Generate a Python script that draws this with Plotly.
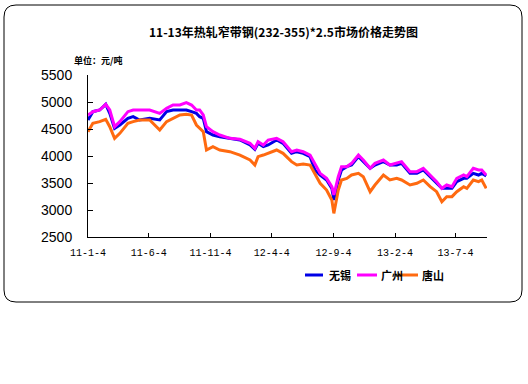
import plotly.graph_objects as go

dates = ["2011-01-04","2011-01-16","2011-02-02","2011-02-17","2011-02-27","2011-03-11","2011-03-24",
         "2011-04-13","2011-04-26","2011-05-12","2011-06-06","2011-07-01","2011-07-18","2011-08-03",
         "2011-08-20","2011-09-05","2011-09-18","2011-09-30","2011-10-08","2011-10-17","2011-10-25",
         "2011-11-10","2011-11-27","2011-12-22","2012-01-16","2012-02-10","2012-02-22","2012-03-01",
         "2012-03-14","2012-03-26","2012-04-16","2012-05-02","2012-05-23","2012-06-05","2012-06-21",
         "2012-07-08","2012-07-20","2012-08-02","2012-08-18","2012-08-31","2012-09-05","2012-09-16",
         "2012-09-24","2012-10-07","2012-10-19","2012-11-05","2012-11-17","2012-12-04","2012-12-16",
         "2013-01-06","2013-01-22","2013-02-08","2013-02-20","2013-03-13","2013-03-30","2013-04-15",
         "2013-05-02","2013-05-18","2013-05-31","2013-06-12","2013-06-25","2013-07-07","2013-07-24",
         "2013-08-01","2013-08-17","2013-08-30","2013-09-07","2013-09-18"]

wuxi = [4667,4821,4852,4957,4790,4512,4574,4697,4728,4667,4697,4667,4821,4852,
        4852,4852,4821,4790,4728,4697,4451,4389,4358,4327,4296,4204,4123,4235,
        4173,4204,4296,4235,4049,4080,4049,3988,3741,3648,3556,3401,3185,3556,
        3741,3802,3833,3988,3895,3772,3833,3895,3833,3833,3864,3679,3679,3741,
        3617,3494,3401,3401,3401,3525,3586,3586,3679,3648,3679,3630]

guangzhou = [4759,4821,4852,4957,4852,4543,4636,4821,4852,4852,4852,4790,4883,4944,
             4944,4988,4944,4852,4852,4759,4543,4451,4389,4327,4309,4235,4142,4265,
             4204,4296,4327,4265,4080,4111,4080,4018,3864,3679,3586,3432,3278,3617,
             3802,3802,3864,4018,3926,3772,3864,3926,3833,3864,3895,3710,3710,3772,
             3648,3525,3401,3463,3432,3586,3648,3617,3772,3741,3741,3648]

tangshan = [4451,4605,4636,4679,4543,4327,4420,4605,4636,4667,4667,4481,4636,4697,
            4759,4772,4759,4574,4512,4451,4111,4173,4111,4080,4018,3926,3833,3988,
            4018,4049,4111,4049,3895,3833,3852,3833,3679,3494,3370,3185,2938,3370,
            3556,3586,3648,3679,3617,3339,3463,3648,3556,3586,3556,3463,3494,3556,
            3432,3339,3154,3247,3247,3339,3432,3401,3556,3525,3556,3401]

series_names = ["无锡", "广州", "唐山"]
tick_dates = ["2011-01-04","2011-06-04","2011-11-04","2012-04-04","2012-09-04","2013-02-04","2013-07-04"]
tick_text = ["11-1-4","11-6-4","11-11-4","12-4-4","12-9-4","13-2-4","13-7-4"]
y_ticks = [2500,3000,3500,4000,4500,5000,5500]

W, H = 528, 384
L, R, T, B = 88, 41, 75, 147
pw, ph = W - L - R, H - T - B

def px(x):
    return (x - L) / pw

def py(y):
    return (H - B - y) / ph

colors = ["#0000E6", "#FF00FF", "#FF6A10"]
fig = go.Figure()
for name, vals, col in zip(series_names, [wuxi, guangzhou, tangshan], colors):
    fig.add_trace(go.Scatter(x=dates, y=vals, mode="lines", name=name,
                             line=dict(color=col, width=3), showlegend=False))

# rounded border
x0, x1, y0, y1, r = 4, 522, 5, 302, 12
path = (f"M {px(x0+r)},{py(y0)} L {px(x1-r)},{py(y0)} Q {px(x1)},{py(y0)} {px(x1)},{py(y0+r)} "
        f"L {px(x1)},{py(y1-r)} Q {px(x1)},{py(y1)} {px(x1-r)},{py(y1)} "
        f"L {px(x0+r)},{py(y1)} Q {px(x0)},{py(y1)} {px(x0)},{py(y1-r)} "
        f"L {px(x0)},{py(y0+r)} Q {px(x0)},{py(y0)} {px(x0+r)},{py(y0)} Z")
fig.add_shape(type="path", path=path, xref="paper", yref="paper",
              line=dict(color="black", width=1), layer="below")

fig.add_annotation(text="<b>11-13年热轧窄带钢(232-355)*2.5市场价格走势图</b>",
                   x=px(283), y=py(32), xref="paper", yref="paper", showarrow=False,
                   xanchor="center", yanchor="middle",
                   font=dict(family="Noto Sans CJK SC", size=12, color="black"))
fig.add_annotation(text="<b>单位：元/吨</b>", x=px(72), y=py(60), xref="paper", yref="paper",
                   xanchor="left", yanchor="middle", showarrow=False,
                   font=dict(family="Noto Sans CJK SC", size=9, color="black"))

# legend (drawn manually so it does not shift the plot area)
leg_lines = [(305, 323), (357, 377), (398, 418)]
leg_text_x = [327, 379, 420]
for (a, b), tx, name, col in zip(leg_lines, leg_text_x, series_names, colors):
    fig.add_shape(type="line", xref="paper", yref="paper", x0=px(a), x1=px(b),
                  y0=py(275), y1=py(275), line=dict(color=col, width=3))
    fig.add_annotation(text=f"<b>{name}</b>", x=px(tx), y=py(275), xref="paper", yref="paper",
                       xanchor="left", yanchor="middle", showarrow=False,
                       font=dict(family="Noto Sans CJK SC", size=11, color="black"))

fig.update_layout(
    width=W, height=H, margin=dict(l=L, r=R, t=T, b=B, autoexpand=False),
    paper_bgcolor="white", plot_bgcolor="white",
    showlegend=False,
    xaxis=dict(type="date", range=["2011-01-04", "2013-09-20"], tickvals=tick_dates, ticktext=tick_text,
               showgrid=False, zeroline=False, showline=True, linecolor="black", linewidth=1,
               ticks="inside", ticklen=4, tickcolor="black", ticklabelstandoff=6,
               tickfont=dict(family="Liberation Mono", size=10, color="black"), automargin=False),
    yaxis=dict(range=[2500, 5500], tickvals=y_ticks, showgrid=False, zeroline=False,
               showline=True, linecolor="black", linewidth=1,
               ticks="inside", ticklen=5, tickcolor="black", ticklabelstandoff=12,
               tickfont=dict(family="Liberation Sans", size=14, color="black"), automargin=False),
)

fig.write_html("out.html", config={"displayModeBar": False},
               post_script="document.body.style.margin='0px';")
